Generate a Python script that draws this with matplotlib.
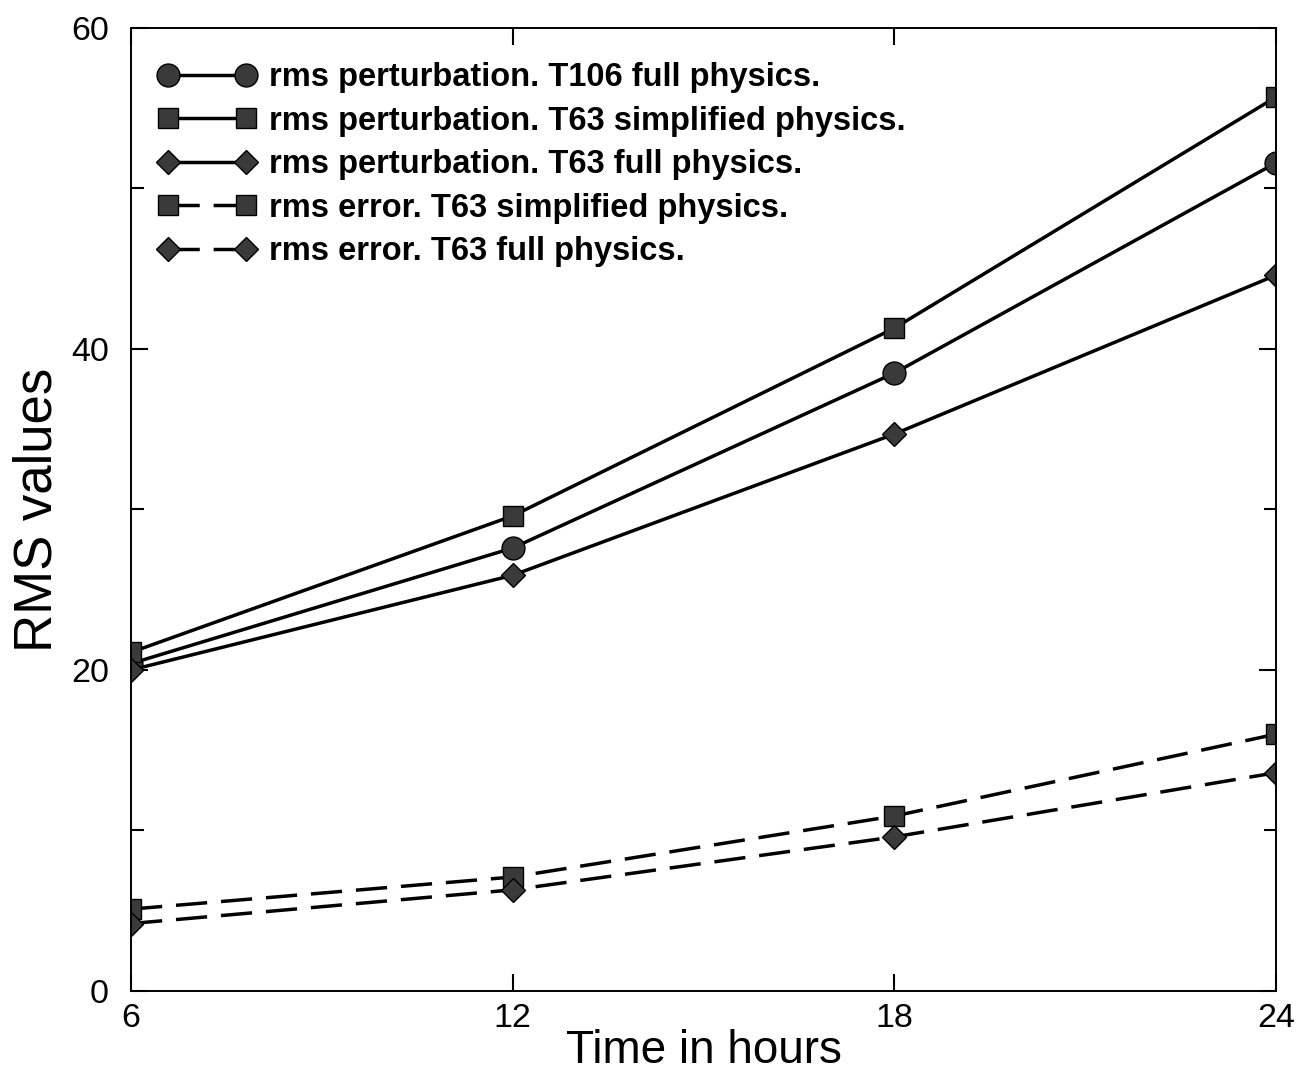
import matplotlib.pyplot as plt
from matplotlib.ticker import MultipleLocator

# ------------------------------------------------------------
# Data
# ------------------------------------------------------------
hours = [6, 12, 18, 24]

pert_t106_full = [20.4, 27.6, 38.5, 51.6]
pert_t63_simple = [21.1, 29.6, 41.3, 55.7]
pert_t63_full = [20.0, 25.9, 34.7, 44.6]
err_t63_simple = [5.1, 7.1, 10.9, 16.0]
err_t63_full = [4.2, 6.3, 9.6, 13.6]

labels = [
    "rms perturbation. T106 full physics.",
    "rms perturbation. T63 simplified physics.",
    "rms perturbation. T63 full physics.",
    "rms error. T63 simplified physics.",
    "rms error. T63 full physics.",
]

plt.rcParams["font.family"] = ["Liberation Sans", "DejaVu Sans"]

fig = plt.figure(figsize=(12.96, 10.81), dpi=100)
ax = fig.add_axes([0.1011, 0.0833, 0.8835, 0.8908])

face = "#3a3a3a"
dash = (0, (9, 4))
common = dict(color="black", linewidth=2.5, markerfacecolor=face,
              markeredgecolor="black", markeredgewidth=1.0)

ax.plot(hours, pert_t106_full, marker="o", markersize=16.5, linestyle="-",
        label=labels[0], **common)
ax.plot(hours, pert_t63_simple, marker="s", markersize=15, linestyle="-",
        label=labels[1], **common)
ax.plot(hours, pert_t63_full, marker="D", markersize=12, linestyle="-",
        label=labels[2], **common)
ax.plot(hours, err_t63_simple, marker="s", markersize=15, linestyle=dash,
        label=labels[3], **common)
ax.plot(hours, err_t63_full, marker="D", markersize=12, linestyle=dash,
        label=labels[4], **common)

ax.set_xlim(6, 24)
ax.set_ylim(0, 60)
ax.set_xticks(hours)
ax.set_yticks([0, 20, 40, 60])
ax.yaxis.set_minor_locator(MultipleLocator(10))

ax.tick_params(which="both", direction="in", top=True, right=True,
               labelsize=24.5, width=1.5)
ax.tick_params(which="major", length=12)
ax.tick_params(which="minor", length=9)
ax.tick_params(axis="x", which="major", pad=9)
ax.tick_params(axis="y", which="major", pad=16)
for s in ax.spines.values():
    s.set_linewidth(1.4)

ax.set_xlabel("Time in hours", fontsize=33, labelpad=-4)
ax.set_ylabel("RMS values", fontsize=38, labelpad=6)

leg = ax.legend(loc="upper left", bbox_to_anchor=(0.0, 0.992),
                frameon=False, numpoints=2,
                handlelength=3.0, handletextpad=0.42, labelspacing=0.38,
                borderaxespad=0.42, prop={"size": 23.5, "weight": "bold"})

fig.savefig("out.png", dpi=100)
